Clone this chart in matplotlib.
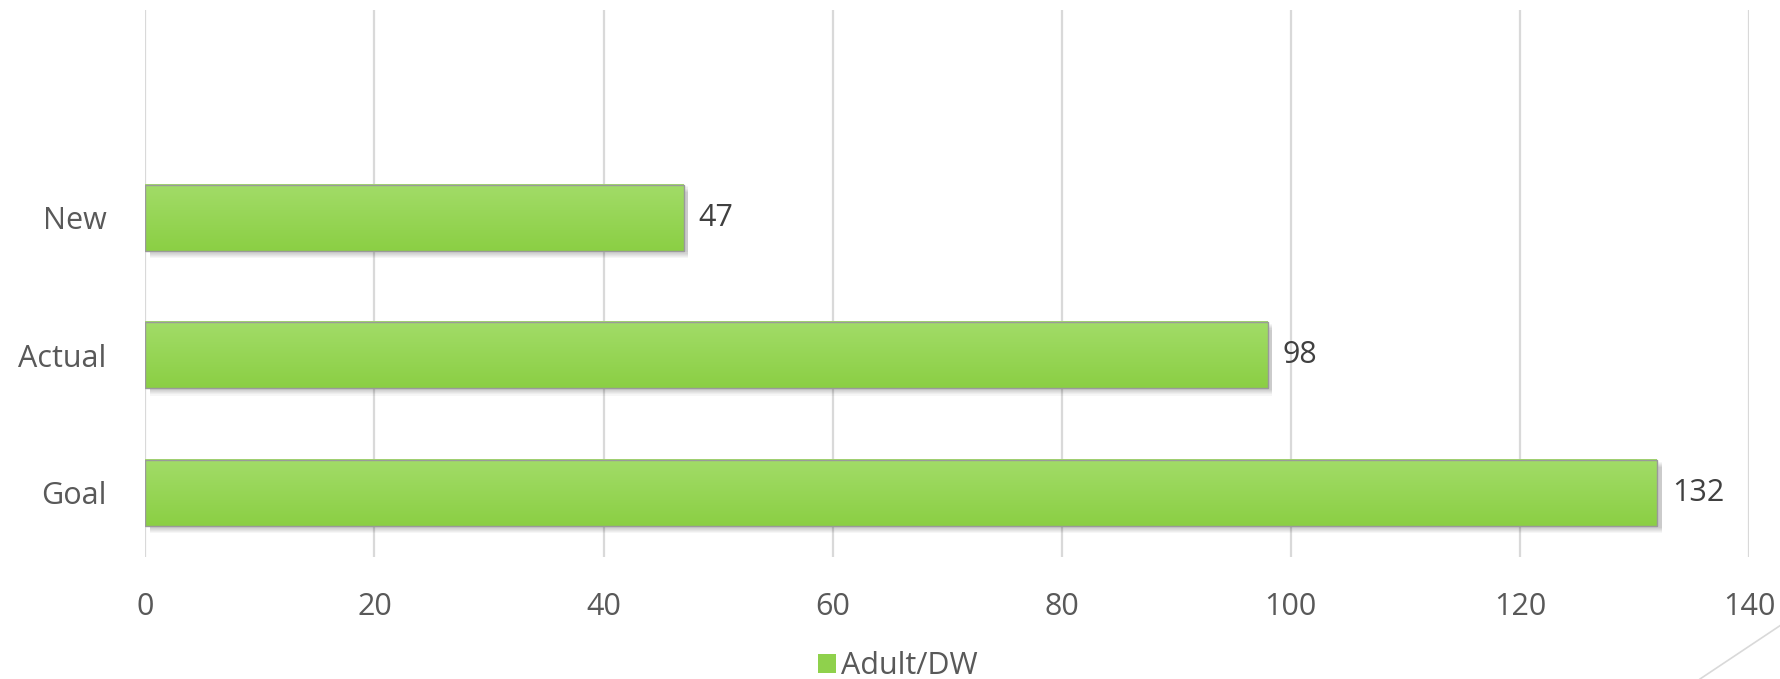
import numpy as np
import matplotlib.pyplot as plt
from matplotlib.patches import Patch, Rectangle
from matplotlib.lines import Line2D

# Data
categories = ["Goal", "Actual", "New"]
values = [132, 98, 47]
series_name = "Adult/DW"

plt.rcParams['font.family'] = ['Open Sans', 'DejaVu Sans']

text_grey = "#595959"
bar_top = np.array([0xA2, 0xDC, 0x68]) / 255
bar_bottom = np.array([0x8B, 0xCF, 0x44]) / 255
fs = 22

fig = plt.figure(figsize=(17.81, 6.79), dpi=100)
ax = fig.add_axes([0.0816, 0.1797, 0.9004, 0.8056])

bar_h = 0.48
y = np.arange(len(categories))

# vertical gradient used to fill each bar
grad = np.linspace(0, 1, 64)[:, None, None]
grad_img = bar_top * (1 - grad) + bar_bottom * grad

for yi, v in zip(y, values):
    # soft shadow under each bar
    for k in range(6):
        ax.add_patch(Rectangle((0.4, yi - bar_h / 2 - 0.012 - k * 0.008), v, bar_h,
                               facecolor="black", alpha=0.035, edgecolor="none", zorder=2))
    ax.imshow(grad_img, extent=(0, v, yi - bar_h / 2, yi + bar_h / 2),
              aspect="auto", origin="upper", zorder=3)
    ax.add_patch(Rectangle((0, yi - bar_h / 2), v, bar_h, facecolor="none",
                           edgecolor="#9a9a9a", linewidth=1.0, zorder=4))
    ax.text(v + 1.3, yi, str(v), ha="left", va="center",
            fontsize=fs, color="#404040", zorder=5)

ax.set_xlim(0, 140)
ax.set_ylim(-0.465, 3.51)
ax.set_xticks(np.arange(0, 141, 20))
ax.set_yticks(y)
ax.set_yticklabels(categories)
ax.tick_params(axis="both", length=0, labelsize=fs, colors=text_grey)
ax.tick_params(axis="x", pad=25)
ax.tick_params(axis="y", pad=28)
ax.grid(axis="x", color="#d9d9d9", linewidth=1.6, zorder=0)
ax.set_axisbelow(True)
for s in ax.spines.values():
    s.set_visible(False)

# legend
handle = Patch(facecolor="#8fd14c", edgecolor="none")
fig.legend(handles=[handle], labels=[series_name], loc="center",
           bbox_to_anchor=(0.504, 13 / 679), frameon=False, fontsize=fs,
           handlelength=0.6, handleheight=0.6, handletextpad=0.15,
           borderpad=0, labelcolor=text_grey)

# decorative corner stroke
fig.add_artist(Line2D([1700 / 1781, 1.0], [0.0, 54 / 679], color="#d9d9d9",
                      linewidth=1.2, transform=fig.transFigure))

fig.savefig("out.png", dpi=100)
